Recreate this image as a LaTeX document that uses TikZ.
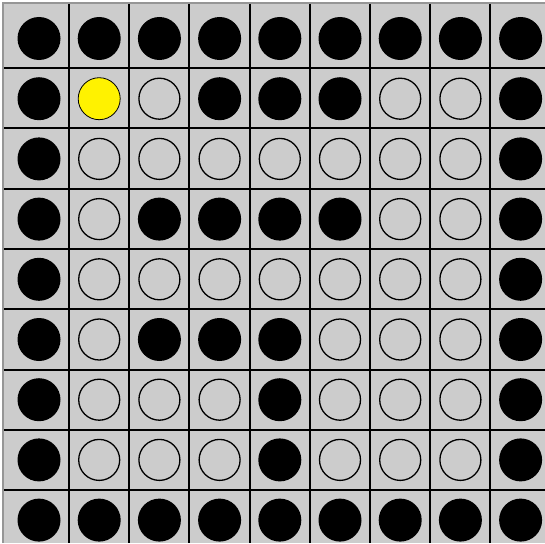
\documentclass[tikz,border=0pt]{standalone}
\usepackage{tikz}
\usepackage{xcolor}
\definecolor{boardgray}{RGB}{204,204,204}
\definecolor{framegray}{RGB}{150,150,150}

\begin{document}
\begin{tikzpicture}[x=1pt,y=-1pt,
  cell b/.style={circle, fill=black, minimum size=43pt, inner sep=0pt},
  cell o/.style={circle, draw=black, line width=1.3pt, minimum size=41pt, inner sep=0pt},
  cell y/.style={circle, fill=yellow, draw=black, line width=0.8pt, minimum size=42pt, inner sep=0pt}]
\useasboundingbox (0,0) rectangle (545,543);
\fill[white] (0,0) rectangle (545,543);
\fill[boardgray] (2,2) rectangle (545,543);
\draw[framegray, line width=2pt] (3,543) -- (3,3) -- (545,3);
% grid lines
\foreach \k in {0,...,7} {
  \draw[line width=2pt] ({69+60.2*\k},4) -- ({69+60.2*\k},543);
  \draw[line width=2pt] (4,{68+60.3*\k}) -- (545,{68+60.3*\k});
}
% board: b = black, o = empty, y = yellow
\foreach \row [count=\r from 0] in {{b,b,b,b,b,b,b,b,b},
                                    {b,y,o,b,b,b,o,o,b},
                                    {b,o,o,o,o,o,o,o,b},
                                    {b,o,b,b,b,b,o,o,b},
                                    {b,o,o,o,o,o,o,o,b},
                                    {b,o,b,b,b,o,o,o,b},
                                    {b,o,o,o,b,o,o,o,b},
                                    {b,o,o,o,b,o,o,o,b},
                                    {b,b,b,b,b,b,b,b,b}} {
  \foreach \s [count=\c from 0] in \row {
    \node[cell \s] (s-\r-\c) at ({39+60.2*\c},{38.5+60.2*\r}) {};
  }
}
\end{tikzpicture}
\end{document}
